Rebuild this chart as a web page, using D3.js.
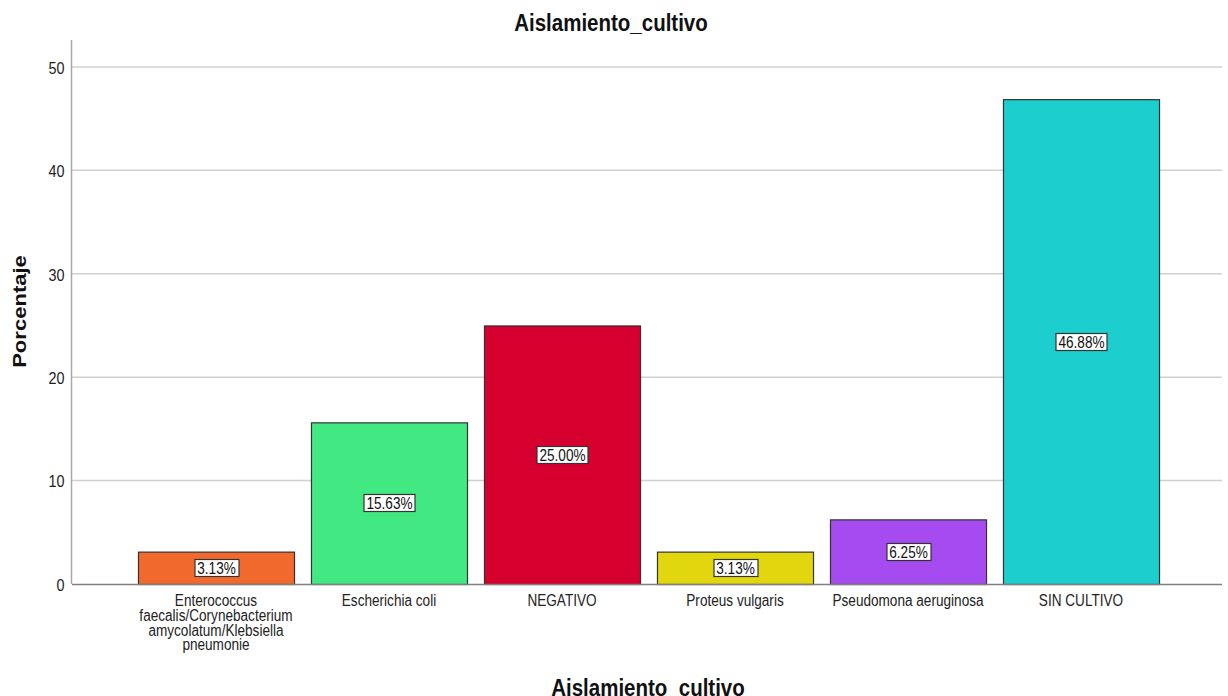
<!DOCTYPE html>
<html>
<head>
<meta charset="utf-8">
<script src="https://cdn.jsdelivr.net/npm/d3@7"></script>
<style>
  html, body { margin: 0; padding: 0; background: #fff; }
  svg { display: block; font-family: "Liberation Sans", Arial, sans-serif; }
</style>
</head>
<body>
<svg id="chart" width="1228" height="696"></svg>
<script>
// Category names (each entry is a list of wrapped label lines)
const categories = [
  ["Enterococcus", "faecalis/Corynebacterium", "amycolatum/Klebsiella", "pneumonie"],
  ["Escherichia coli"],
  ["NEGATIVO"],
  ["Proteus vulgaris"],
  ["Pseudomona aeruginosa"],
  ["SIN CULTIVO"]
];
const percentages = [3.13, 15.63, 25.00, 3.13, 6.25, 46.88];
const barColors = ["#F2692D", "#42E882", "#D5002E", "#E2D60E", "#A64BF0", "#1CCECE"];
const yTicks = [0, 10, 20, 30, 40, 50];

// Text is drawn slightly taller than wide
const stretch = 1.18;

const svg = d3.select("#chart");

const x = d3.scaleBand()
  .domain(d3.range(categories.length))
  .range([129.5, 1167.5])
  .paddingInner(0.098)
  .paddingOuter(0.049);

const y = d3.scaleLinear()
  .domain([0, 52.6])
  .range([584, 40]);

// Horizontal gridlines
svg.append("g")
  .selectAll("line")
  .data(yTicks.filter(d => d > 0))
  .join("line")
  .attr("x1", 72).attr("x2", 1222)
  .attr("y1", d => y(d)).attr("y2", d => y(d))
  .attr("stroke", "#d0d0d0")
  .attr("stroke-width", 1.5);

// Y axis
const yAxis = svg.append("g")
  .attr("transform", "translate(71.5,0)")
  .call(d3.axisLeft(y).tickValues(yTicks).tickSize(0).tickPadding(7));
yAxis.select(".domain").attr("stroke", "#a8a8a8").attr("stroke-width", 1.5)
  .attr("d", "M0,40V584");
yAxis.selectAll(".tick text")
  .attr("font-size", 14.4)
  .attr("fill", "#222")
  .attr("font-family", "Liberation Sans, Arial, sans-serif")
  .attr("x", null).attr("dy", null)
  .attr("transform", `translate(-7,6.3) scale(1,${stretch})`);

// Bars
svg.append("g")
  .selectAll("rect")
  .data(percentages)
  .join("rect")
  .attr("x", (d, i) => x(i) + 0.5)
  .attr("y", d => y(d) + 0.5)
  .attr("width", x.bandwidth())
  .attr("height", d => y(0) - y(d))
  .attr("fill", (d, i) => barColors[i])
  .attr("stroke", "#333")
  .attr("stroke-width", 1.2);

// X axis baseline
svg.append("line")
  .attr("x1", 72).attr("x2", 1222)
  .attr("y1", y(0) + 0.5).attr("y2", y(0) + 0.5)
  .attr("stroke", "#808080")
  .attr("stroke-width", 1.5);

// Value labels in boxes at bar centre
const labels = svg.append("g")
  .selectAll("g")
  .data(percentages)
  .join("g")
  .attr("transform", (d, i) => `translate(${x(i) + x.bandwidth() / 2 + 0.5},${Math.round((y(d) + y(0)) / 2)})`);
labels.append("text")
  .attr("text-anchor", "middle")
  .attr("font-size", 13.6)
  .attr("fill", "#111")
  .attr("transform", `translate(0,5.8) scale(1,${stretch})`)
  .text(d => d.toFixed(2) + "%");
labels.each(function () {
  const g = d3.select(this);
  const bb = g.select("text").node().getBBox();
  g.insert("rect", "text")
    .attr("x", Math.round(bb.x) - 2.5)
    .attr("y", -8.5)
    .attr("width", Math.round(bb.width) + 5)
    .attr("height", 17)
    .attr("fill", "#fff")
    .attr("stroke", "#333")
    .attr("stroke-width", 1.2);
});

// Category labels
const cat = svg.append("g")
  .selectAll("text")
  .data(categories)
  .join("text")
  .attr("text-anchor", "middle")
  .attr("font-size", 13.6)
  .attr("fill", "#222")
  .attr("transform", (d, i) => `translate(${x(i) + x.bandwidth() / 2},606) scale(1,${stretch})`);
cat.selectAll("tspan")
  .data(d => d)
  .join("tspan")
  .attr("x", 0)
  .attr("dy", (d, i) => i === 0 ? 0 : 14.8 / stretch)
  .text(d => d);

// Titles
svg.append("text")
  .attr("transform", `translate(611,30.5) scale(1,${stretch})`)
  .attr("text-anchor", "middle")
  .attr("font-size", 20.5).attr("font-weight", "bold").attr("fill", "#111")
  .text("Aislamiento_cultivo");

svg.append("text")
  .attr("transform", `translate(648,696) scale(1,${stretch})`)
  .attr("text-anchor", "middle")
  .attr("font-size", 20.5).attr("font-weight", "bold").attr("fill", "#111")
  .text("Aislamiento_cultivo");

svg.append("text")
  .attr("transform", `translate(26,311.5) rotate(-90) scale(${stretch},1)`)
  .attr("text-anchor", "middle")
  .attr("font-size", 18.7).attr("font-weight", "bold").attr("fill", "#111")
  .text("Porcentaje");
</script>
</body>
</html>
